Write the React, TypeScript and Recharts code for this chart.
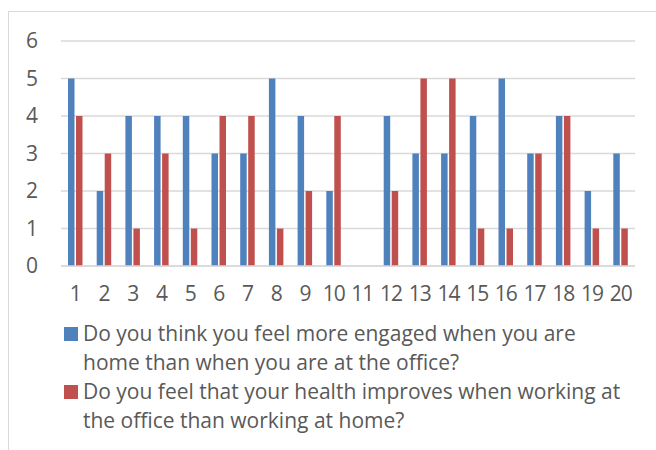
import { BarChart, Bar, XAxis, YAxis, CartesianGrid } from "recharts";

const categories = ["1", "2", "3", "4", "5", "6", "7", "8", "9", "10", "11", "12", "13", "14", "15", "16", "17", "18", "19", "20"];
const engagedValues = [5, 2, 4, 4, 4, 3, 3, 5, 4, 2, 0, 4, 3, 3, 4, 5, 3, 4, 2, 3];
const healthValues = [4, 3, 1, 3, 1, 4, 4, 1, 2, 4, 0, 2, 5, 5, 1, 1, 3, 4, 1, 1];
const yTicks = [0, 1, 2, 3, 4, 5, 6];

const seriesNames = [
  "Do you think you feel more engaged when you are home than when you are at the office?",
  "Do you feel that your health improves when working at the office than working at home?",
];
// line breaks as they appear in the legend
const legendLines = [
  ["Do you think you feel more engaged when you are", "home than when you are at the office?"],
  ["Do you feel that your health improves when working at", "the office than working at home?"],
];
const colors = ["#4F81BD", "#C0504D"];

const data = categories.map((c, i) => ({
  name: c,
  engaged: engagedValues[i],
  health: healthValues[i],
}));

const FONT = "'Open Sans', sans-serif";
const TEXT = "#595959";

const XTick = ({ x, y, payload }: any) => (
  <text x={x} y={y + 27} textAnchor="middle" fill={TEXT} fontFamily={FONT} letterSpacing={-1} style={{ fontSize: 21 }}>
    {payload.value}
  </text>
);

const YTick = ({ x, y, payload }: any) => (
  <text x={x - 21} y={y + 7} textAnchor="middle" fill={TEXT} fontFamily={FONT} style={{ fontSize: 21 }}>
    {payload.value}
  </text>
);

export default function App() {
  return (
    <div style={{ position: "absolute", left: 0, top: 0, width: 656, height: 450, background: "#fff", overflow: "hidden", fontFamily: FONT }}>
      <div
        style={{
          position: "absolute",
          left: 8,
          top: 11,
          width: 700,
          height: 500,
          border: "1.5px solid #D9D9D9",
        }}
      />
      <div style={{ position: "absolute", left: 0, top: 0 }}>
        <BarChart
          width={656}
          height={320}
          data={data}
          margin={{ top: 41, right: 21, left: 0, bottom: 14 }}
          barGap={1.5}
          barSize={6.5}
        >
          <CartesianGrid vertical={false} stroke="#D9D9D9" strokeWidth={1.3} />
          <XAxis
            dataKey="name"
            interval={0}
            tickLine={false}
            axisLine={{ stroke: "#D9D9D9", strokeWidth: 1.3 }}
            tick={<XTick />}
            height={40}
          />
          <YAxis
            domain={[0, 6]}
            ticks={yTicks}
            axisLine={false}
            tickLine={false}
            tick={<YTick />}
            width={61}
          />
          <Bar dataKey="engaged" name={seriesNames[0]} fill={colors[0]} isAnimationActive={false} />
          <Bar dataKey="health" name={seriesNames[1]} fill={colors[1]} isAnimationActive={false} />
        </BarChart>
      </div>
      <div style={{ position: "absolute", left: 64, top: 319 }}>
        {legendLines.map((lines, i) => (
          <div key={i} style={{ position: "relative", paddingLeft: 19 }}>
            <span
              style={{
                position: "absolute",
                left: 0,
                top: 8,
                width: 14,
                height: 14,
                background: colors[i],
              }}
            />
            {lines.map((l, j) => (
              <div key={j} style={{ fontSize: 21, lineHeight: "29px", color: TEXT, whiteSpace: "nowrap" }}>
                {l}
              </div>
            ))}
          </div>
        ))}
      </div>
    </div>
  );
}
